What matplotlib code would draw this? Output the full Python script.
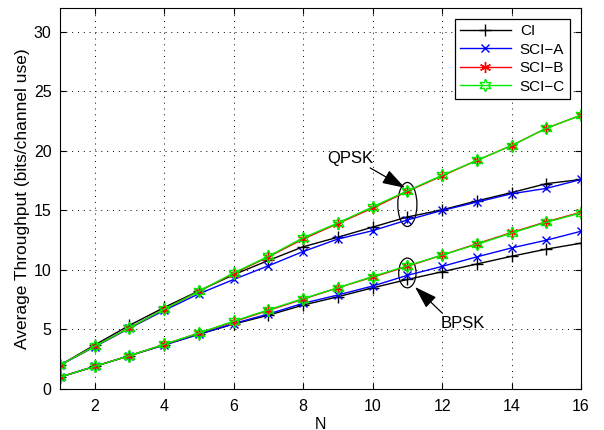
import numpy as np
import matplotlib
matplotlib.use("Agg")
import matplotlib.pyplot as plt
from matplotlib.patches import Ellipse

plt.rcParams['font.family'] = ['Liberation Sans', 'DejaVu Sans']

N = np.arange(1, 17)

# QPSK curves
qpsk_ci   = [2.0, 3.7, 5.35, 6.85, 8.25, 9.6, 10.8, 11.95, 12.75, 13.6, 14.45, 15.05, 15.8, 16.5, 17.25, 17.6]
qpsk_scia = [2.0, 3.55, 5.1, 6.6, 8.0, 9.2, 10.35, 11.55, 12.6, 13.3, 14.2, 15.0, 15.7, 16.4, 16.85, 17.6]
qpsk_scib = [2.0, 3.6, 5.15, 6.7, 8.2, 9.7, 11.1, 12.6, 13.9, 15.2, 16.6, 17.9, 19.2, 20.45, 21.9, 23.0]
qpsk_scic = [2.0, 3.6, 5.15, 6.7, 8.2, 9.75, 11.15, 12.7, 13.95, 15.3, 16.65, 17.95, 19.2, 20.45, 21.9, 23.0]

# BPSK curves
bpsk_ci   = [1.0, 1.9, 2.8, 3.7, 4.6, 5.45, 6.2, 7.05, 7.75, 8.5, 9.2, 9.85, 10.5, 11.15, 11.75, 12.25]
bpsk_scia = [1.0, 1.9, 2.8, 3.7, 4.6, 5.5, 6.3, 7.2, 7.9, 8.65, 9.55, 10.3, 11.1, 11.85, 12.5, 13.25]
bpsk_scib = [1.0, 1.9, 2.8, 3.75, 4.7, 5.65, 6.6, 7.55, 8.5, 9.4, 10.3, 11.25, 12.2, 13.15, 14.05, 14.85]
bpsk_scic = [1.0, 1.9, 2.8, 3.75, 4.7, 5.7, 6.65, 7.6, 8.5, 9.45, 10.35, 11.25, 12.15, 13.1, 14.0, 14.8]

labels = ['CI', 'SCI\u2212A', 'SCI\u2212B', 'SCI\u2212C']

fig = plt.figure(figsize=(6.04, 4.30), dpi=100)
ax = fig.add_axes([0.0993, 0.0953, 0.8627, 0.886])

styles = [
    dict(color='black', marker='+', ms=8, mew=1.0),
    dict(color='blue', marker='x', ms=6, mew=1.0),
    dict(color='red', marker=(6, 2, 0), ms=8, mew=1.0),
    dict(color='#00ee00', marker=(6, 1, 0), ms=9, mew=1.0, mfc='none'),
]

for series, st, lab in zip([qpsk_ci, qpsk_scia, qpsk_scib, qpsk_scic], styles, labels):
    ax.plot(N, series, lw=1.0, label=lab, **st)
for series, st in zip([bpsk_ci, bpsk_scia, bpsk_scib, bpsk_scic], styles):
    ax.plot(N, series, lw=1.0, **st)

# ellipses, arrows and labels
ax.add_patch(Ellipse((11, 15.5), 0.55, 3.7, fill=False, ec='black', lw=0.9))
ax.add_patch(Ellipse((11, 9.75), 0.5, 2.5, fill=False, ec='black', lw=0.9))

arrow = dict(arrowstyle='-|>,head_length=1.4,head_width=0.45', color='black', lw=0.9,
             mutation_scale=10, shrinkA=0, shrinkB=0)
ax.annotate('', xy=(10.93, 16.9), xytext=(9.93, 18.57), arrowprops=arrow)
ax.annotate('', xy=(11.22, 8.57), xytext=(12.0, 6.39), arrowprops=arrow)
ax.text(9.35, 19.37, 'QPSK', ha='center', va='center', fontsize=12)
ax.text(12.6, 5.5, 'BPSK', ha='center', va='center', fontsize=12)

ax.set_xlim(1, 16)
ax.set_ylim(0, 32)
ax.set_xticks(range(2, 17, 2))
ax.set_yticks(range(0, 31, 5))
ax.tick_params(direction='in', top=True, right=True, labelsize=11.5, length=4)
ax.tick_params(axis='x', pad=7)
ax.tick_params(axis='y', pad=6)
ax.grid(True, linestyle=(0, (1, 5)), color='black', lw=0.7)
ax.set_xlabel('N', fontsize=11.5, labelpad=2)
ax.set_ylabel('Average Throughput (bits/channel use)', fontsize=12.5, labelpad=3)

leg = ax.legend(loc='upper right', fontsize=11, fancybox=False, edgecolor='black',
                framealpha=1, handlelength=3.3, borderaxespad=0.7, labelspacing=0.3,
                borderpad=0.35, handletextpad=0.6)
leg.get_frame().set_linewidth(0.9)

fig.savefig('out.png', dpi=100)
